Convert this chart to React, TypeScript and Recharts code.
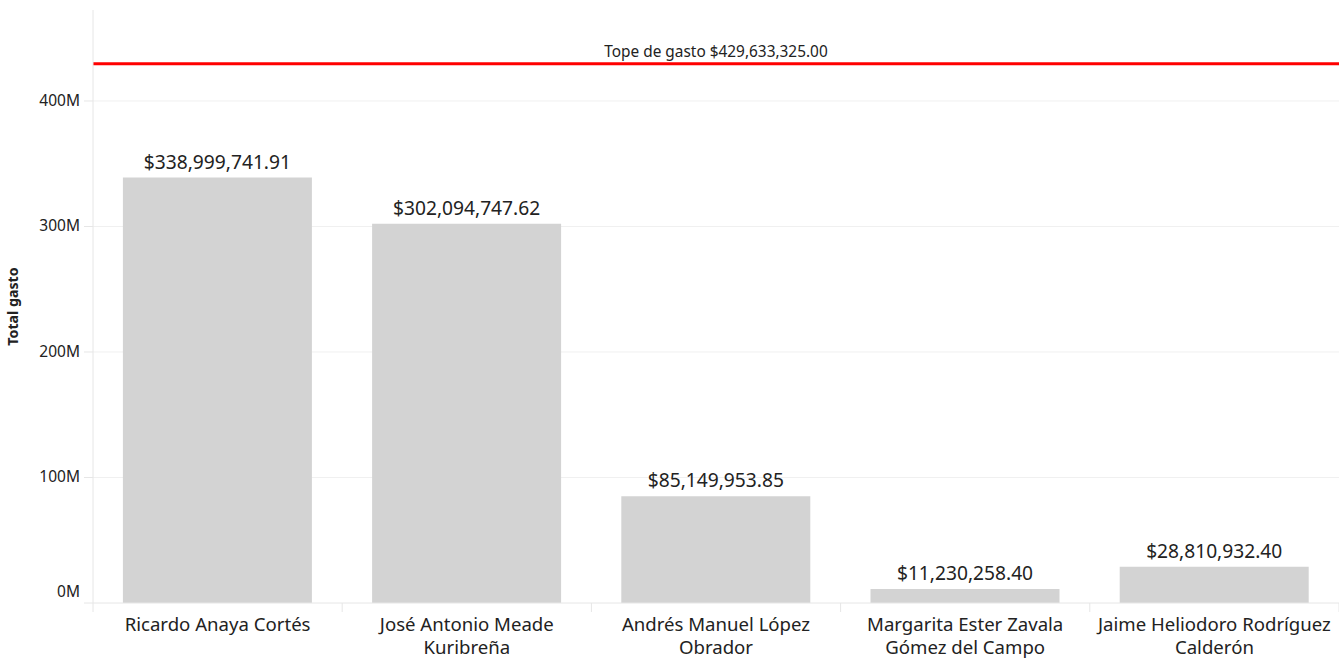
import React from "react";
import {
  BarChart,
  Bar,
  XAxis,
  YAxis,
  CartesianGrid,
  ReferenceLine,
  LabelList,
} from "recharts";

const categories = [
  "Ricardo Anaya Cortés",
  "José Antonio Meade Kuribreña",
  "Andrés Manuel López Obrador",
  "Margarita Ester Zavala Gómez del Campo",
  "Jaime Heliodoro Rodríguez Calderón",
];
const tickLines: string[][] = [
  ["Ricardo Anaya Cortés"],
  ["José Antonio Meade", "Kuribreña"],
  ["Andrés Manuel López", "Obrador"],
  ["Margarita Ester Zavala", "Gómez del Campo"],
  ["Jaime Heliodoro Rodríguez", "Calderón"],
];
const totals = [338999741.91, 302094747.62, 85149953.85, 11230258.4, 28810932.4];
const yTicks = [0, 100000000, 200000000, 300000000, 400000000];
const gridValues = [100000000, 200000000, 300000000, 400000000];
const cap = 429633325.0;
const capLabel = "Tope de gasto";

const data = categories.map((c, i) => ({ name: c, total: totals[i], idx: i }));

const FONT = "'Noto Sans', sans-serif";
const money = (v: number) =>
  "$" + v.toLocaleString("en-US", { minimumFractionDigits: 2, maximumFractionDigits: 2 });

const XTick = (props: any) => {
  const { x, y, payload, index } = props;
  const half = payload && payload.offset ? payload.offset : 124.6;
  const lines = tickLines[index] || [String(payload.value)];
  return (
    <g>
      <line x1={x - half} x2={x - half} y1={y - 8} y2={y + 1} stroke="#e6e6e6" strokeWidth={1} />
      {index === categories.length - 1 && (
        <line x1={x + half} x2={x + half} y1={y - 8} y2={y + 1} stroke="#e6e6e6" strokeWidth={1} />
      )}
      {lines.map((l, i) => (
        <text
          key={i}
          x={x}
          y={y + 20 + i * 23}
          textAnchor="middle"
          fontFamily={FONT}
          fontSize={18.6}
          fill="#222"
        >
          {l}
        </text>
      ))}
    </g>
  );
};

const YTick = (props: any) => {
  const { x, y, payload } = props;
  const dy = payload.value === 0 ? -11 : 0;
  return (
    <text
      x={x}
      y={y + dy}
      dy={5}
      textAnchor="end"
      fontFamily={FONT}
      fontSize={15.5}
      fill="#222"
    >
      {Math.round(payload.value / 1000000) + "M"}
    </text>
  );
};

const CapLabel = (props: any) => {
  const vb = props.viewBox || {};
  const cx = vb.x + vb.width / 2;
  const text = `${capLabel} ${money(cap)}`;
  return (
    <g>
      <rect x={cx - 120} y={vb.y - 26} width={240} height={24} fill="#fff" />
      <text
        x={cx}
        y={vb.y - 7}
        textAnchor="middle"
        fontFamily={FONT}
        fontSize={15.4}
        fill="#222"
      >
        {text}
      </text>
    </g>
  );
};

export default function App() {
  return (
    <div style={{ position: "absolute", left: 0, top: 0, width: 1339, height: 660, background: "#fff" }}>
      <BarChart
        width={1339}
        height={660}
        data={data}
        margin={{ top: 10, right: 0, left: 0, bottom: 0 }}
        barCategoryGap="12%"
      >
        <CartesianGrid
          horizontal={true}
          vertical={false}
          stroke="#f0f0f0"
          horizontalValues={gridValues}
        />
        <XAxis
          dataKey="name"
          height={57}
          tick={<XTick />}
          tickLine={false}
          axisLine={{ stroke: "#e6e6e6" }}
          interval={0}
        />
        <YAxis
          width={93}
          domain={[0, 472500000]}
          ticks={yTicks}
          tick={<YTick />}
          tickSize={9}
          tickMargin={4}
          tickLine={{ stroke: "#e6e6e6" }}
          axisLine={{ stroke: "#e6e6e6" }}
          allowDataOverflow
          label={{
            value: "Total gasto",
            angle: -90,
            position: "insideLeft",
            dx: 8,
            style: { fontFamily: FONT, fontSize: 14.2, fontWeight: 700, fill: "#222", textAnchor: "middle" },
          }}
        />
        <Bar dataKey="total" fill="#d3d3d3" isAnimationActive={false}>
          <LabelList
            dataKey="total"
            position="top"
            offset={9}
            formatter={(v: any) => money(Number(v))}
            style={{ fontFamily: FONT, fontSize: 19.2, fill: "#222" }}
          />
        </Bar>
        <ReferenceLine y={cap} stroke="#ff0000" strokeWidth={3} label={<CapLabel />} />
      </BarChart>
    </div>
  );
}
